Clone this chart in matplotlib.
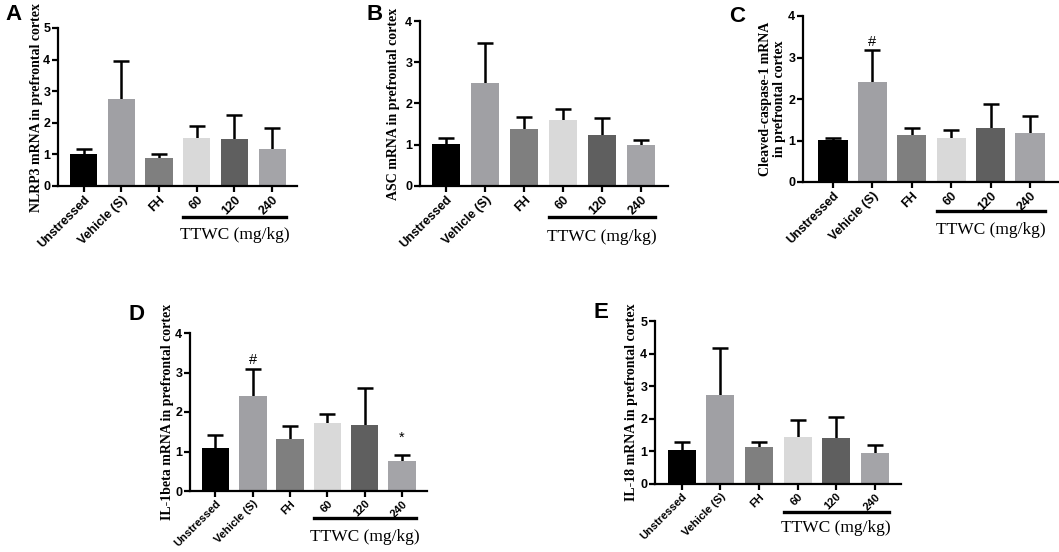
import numpy as np
import matplotlib.pyplot as plt

# Группы и цвета столбцов
groups = ['Unstressed', 'Vehicle (S)', 'FH', '60', '120', '240']
colors = ['#000000', '#a0a0a4', '#7f7f7f', '#d9d9d9', '#5f5f5f', '#a4a4a8']

# Средние значения и верх планки ошибки для каждой панели
nlrp3 = [1.02, 2.74, 0.88, 1.52, 1.50, 1.17]
nlrp3_top = [1.16, 3.97, 1.00, 1.89, 2.26, 1.83]

asc = [1.03, 2.50, 1.37, 1.59, 1.24, 0.99]
asc_top = [1.16, 3.47, 1.67, 1.87, 1.64, 1.12]

casp1 = [1.02, 2.40, 1.13, 1.07, 1.29, 1.17]
casp1_top = [1.06, 3.17, 1.31, 1.26, 1.88, 1.59]

il1b = [1.08, 2.40, 1.31, 1.71, 1.68, 0.75]
il1b_top = [1.43, 3.10, 1.64, 1.96, 2.60, 0.90]

il18 = [1.05, 2.74, 1.15, 1.43, 1.40, 0.94]
il18_top = [1.29, 4.16, 1.28, 1.96, 2.06, 1.19]

SERIF = 'Liberation Serif'
SANS = 'Liberation Sans'

fig = plt.figure(figsize=(10.59, 5.52), dpi=100)


def panel(rect, letter, letter_xy, vals, tops, ymax, ylabel, ylab_x,
          xlim, bar_w, line_y, text_y, xfs=9, marks=None):
    ax = fig.add_axes(rect)
    x = np.arange(len(groups))
    vals = np.array(vals)
    err = np.array(tops) - vals
    # нижняя часть планки спрятана под столбцом
    ax.errorbar(x, vals, yerr=[vals / 2, err], fmt='none',
                ecolor='black', elinewidth=1.8, capsize=5.5, capthick=1.8, zorder=1)
    ax.bar(x, vals, width=bar_w, color=colors, zorder=2)

    ax.set_xlim(*xlim)
    ax.set_ylim(0, ymax)
    ax.set_yticks(range(ymax + 1))
    ax.set_xticks(x)
    ax.set_xticklabels(groups, rotation=45, ha='right', rotation_mode='anchor',
                       fontfamily=SANS, fontweight='bold', fontsize=xfs)
    for lab in ax.get_yticklabels():
        lab.set_fontfamily(SANS)
        lab.set_fontweight('bold')
        lab.set_fontsize(9)
    ax.spines['top'].set_visible(False)
    ax.spines['right'].set_visible(False)
    ax.spines['left'].set_linewidth(1.6)
    ax.spines['bottom'].set_linewidth(1.6)
    ax.tick_params(axis='both', width=1.6, length=4, pad=1.5)

    ax.set_ylabel(ylabel, fontfamily=SERIF, fontweight='bold', fontsize=10,
                  linespacing=1.1)
    ax.yaxis.set_label_coords(ylab_x, 0.5)

    # Линия под дозами TTWC и подпись
    trans = ax.get_xaxis_transform()
    ax.plot([3 - bar_w / 2, 5 + bar_w / 2], [line_y, line_y], color='black',
            lw=2.4, transform=trans, clip_on=False)
    ax.text(4, text_y, 'TTWC (mg/kg)', transform=trans, ha='center', va='center',
            fontfamily=SERIF, fontsize=12.5)

    if marks:
        for i, s, yy in marks:
            ax.text(i, yy, s, ha='center', va='center', fontfamily=SANS, fontsize=10.5)

    fig.text(letter_xy[0] / 1059, 1 - letter_xy[1] / 552, letter, ha='center',
             va='center', fontfamily=SANS, fontweight='bold', fontsize=16)
    return ax


panel([58 / 1059, 1 - 186 / 552, 239 / 1059, 158 / 552], 'A', (14, 14),
      nlrp3, nlrp3_top, 5, 'NLRP3 mRNA in prefrontal cortex', -0.062,
      (-0.68, 5.66), 0.72, -0.196, -0.31)

panel([420 / 1059, 1 - 186 / 552, 248 / 1059, 165 / 552], 'B', (375, 14),
      asc, asc_top, 4, 'ASC mRNA in prefrontal cortex', -0.081,
      (-0.67, 5.69), 0.72, -0.188, -0.31)

panel([803 / 1059, 1 - 182 / 552, 255 / 1059, 166 / 552], 'C', (737, 16),
      casp1, casp1_top, 4, 'Cleaved-caspase-1 mRNA\nin prefrontal cortex', -0.066,
      (-0.76, 5.71), 0.74, -0.175, -0.29,
      marks=[(1, '#', 3.38)])

panel([190 / 1059, 1 - 491 / 552, 237 / 1059, 158 / 552], 'D', (137, 314),
      il1b, il1b_top, 4, 'IL-1beta mRNA in prefrontal cortex', -0.068,
      (-0.68, 5.67), 0.74, -0.171, -0.29, xfs=8,
      marks=[(1, '#', 3.32), (5, '*', 1.34)])

panel([655 / 1059, 1 - 484 / 552, 246 / 1059, 163 / 552], 'E', (601, 313),
      il18, il18_top, 5, 'IL-18 mRNA in prefrontal cortex', -0.069,
      (-0.69, 5.68), 0.725, -0.172, -0.27, xfs=8)

fig.savefig('out.png', dpi=100)
